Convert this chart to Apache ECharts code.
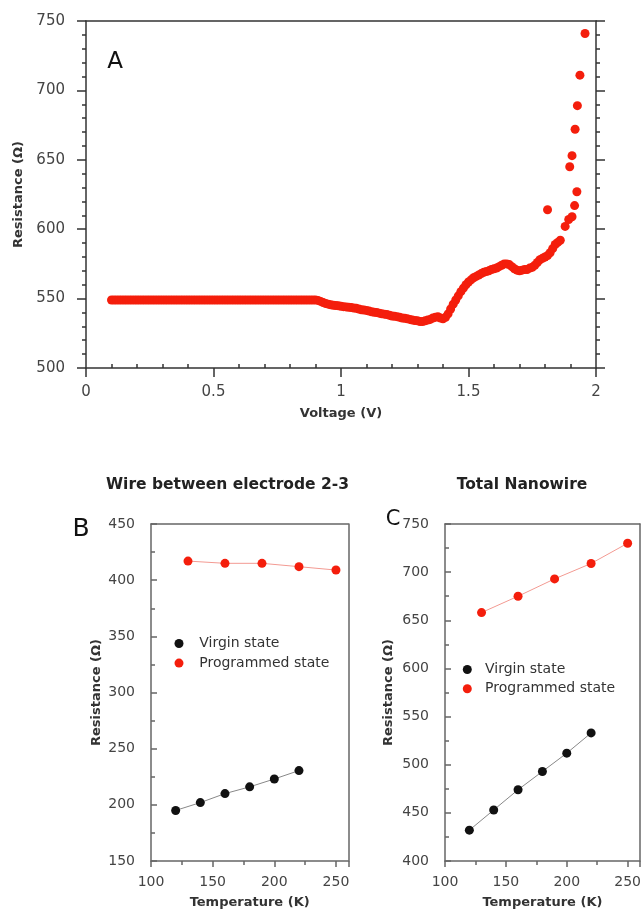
<!DOCTYPE html>
<html>
<head>
<meta charset="utf-8">
<script src="https://cdn.jsdelivr.net/npm/echarts@6/dist/echarts.min.js"></script>
<style>
html,body{margin:0;padding:0;background:#fff;}
#chart{width:644px;height:918px;}
</style>
</head>
<body>
<div id="chart"></div>
<script>
// ---- Panel A: resistance vs voltage ----
const voltageA = [0.10,0.11,0.12,0.13,0.14,0.15,0.16,0.17,0.18,0.19,0.20,0.21,0.22,0.23,0.24,0.25,0.26,0.27,0.28,0.29,
  0.30,0.31,0.32,0.33,0.34,0.35,0.36,0.37,0.38,0.39,0.40,0.41,0.42,0.43,0.44,0.45,0.46,0.47,0.48,0.49,
  0.50,0.51,0.52,0.53,0.54,0.55,0.56,0.57,0.58,0.59,0.60,0.61,0.62,0.63,0.64,0.65,0.66,0.67,0.68,0.69,
  0.70,0.71,0.72,0.73,0.74,0.75,0.76,0.77,0.78,0.79,0.80,0.81,0.82,0.83,0.84,0.85,0.86,0.87,0.88,0.89,
  0.90,0.91,0.92,0.93,0.94,0.95,0.96,0.97,0.98,0.99,1.00,1.01,1.02,1.03,1.04,1.05,1.06,1.07,1.08,1.09,
  1.10,1.11,1.12,1.13,1.14,1.15,1.16,1.17,1.18,1.19,1.20,1.21,1.22,1.23,1.24,1.25,1.26,1.27,1.28,1.29,
  1.30,1.31,1.32,1.33,1.34,1.35,1.36,1.37,1.38,1.39,1.40,1.41,1.42,1.43,1.44,1.45,1.46,1.47,1.48,1.49,
  1.50,1.51,1.52,1.53,1.54,1.55,1.56,1.57,1.58,1.59,1.60,1.61,1.62,1.63,1.64,1.65,1.66,1.67,1.68,1.69,
  1.70,1.71,1.72,1.73,1.74,1.75,1.76,1.77,1.78,1.79,1.80,1.81,1.82,1.83,1.84,1.85,1.86];
const resistanceA = [549,549,549,549,549,549,549,549,549,549,549,549,549,549,549,549,549,549,549,549,
  549,549,549,549,549,549,549,549,549,549,549,549,549,549,549,549,549,549,549,549,
  549,549,549,549,549,549,549,549,549,549,549,549,549,549,549,549,549,549,549,549,
  549,549,549,549,549,549,549,549,549,549,549,549,549,549,549,549,549,549,549,549,
  549,548.7,548,547.2,546.5,546,545.5,545.2,545,544.8,544.5,544.2,544,543.8,543.5,543.2,543,542.5,542,541.8,
  541.5,541,540.5,540.2,540,539.5,539,538.8,538.5,538,537.5,537.2,537,536.5,536,535.8,535.5,535,534.5,534.2,
  534,533.5,533.5,534,534.5,535,536,536.5,537,536,535.5,536.5,539,542.5,546,549,552,555,557.5,560,
  562,563.5,565,566,567,568,569,569.5,570,571,571.5,572,573,574,575,575,574.5,573,571.5,570.5,
  570,570.5,571,571,572,572.5,574,576,578,579,580,581,583,586,589,590.5,592];
const voltageOut = [1.810,1.879,1.893,1.906,1.916,1.925,1.897,1.906,1.918,1.927,1.937,1.957];
const resistanceOut = [614,602,607,609,617,627,645,653,672,689,711,741];

// ---- Panels B and C: resistance vs temperature ----
const tempVirgin = [120,140,160,180,200,220];
const tempProg = [130,160,190,220,250];
const virginB = [195,202,210,216,223,230.5];
const programmedB = [417,415,415,412,409];
const virginC = [432,453,474,493,512,533];
const programmedC = [658,675,693,709,730];

const xTicksA = [0,0.5,1,1.5,2];
const yTicksA = [500,550,600,650,700,750];
const xTicksBC = [100,150,200,250];

const zip = (a,b) => a.map((v,i)=>[v,b[i]]);
const FF = 'DejaVu Sans';
const dark = '#333';
const boxGray = '#666';
const red = '#f41e0c';

const chart = echarts.init(document.getElementById('chart'), null, {renderer:'canvas'});

function boxAxis(grid, pos, color){
  return {gridIndex:grid, type:'value', position:pos, axisLine:{show:true,onZero:false,lineStyle:{color:color,width:1.5}},
    axisTick:{show:false}, axisLabel:{show:false}, splitLine:{show:false}};
}

const option = {
  animation:false,
  textStyle:{fontFamily:FF},
  grid:[
    {left:86, top:21, width:510, height:347},
    {left:151, top:524, width:197.3, height:337},
    {left:445, top:524, width:197.3, height:337}
  ],
  xAxis:[
    {gridIndex:0, type:'value', min:xTicksA[0], max:xTicksA[xTicksA.length-1], interval:0.5, position:'bottom',
     axisLine:{show:true,onZero:false,lineStyle:{color:dark,width:1.5}},
     axisTick:{show:true,length:9,lineStyle:{color:dark,width:1.5}},
     axisLabel:{margin:17,color:'#444',fontSize:15,fontFamily:FF},
     splitLine:{show:false},
     name:'Voltage (V)', nameLocation:'middle', nameGap:39,
     nameTextStyle:{fontWeight:'bold',fontSize:13,color:dark,fontFamily:FF}},
    {gridIndex:0, type:'value', min:xTicksA[0], max:xTicksA[xTicksA.length-1], interval:0.5, position:'bottom',
     axisLine:{show:false}, axisTick:{show:false,inside:true},
     minorTick:{show:true,splitNumber:5,length:4,lineStyle:{color:dark,width:1.5}},
     axisLabel:{show:false}, splitLine:{show:false}, minorSplitLine:{show:false}},
    Object.assign(boxAxis(0,'top',dark),{min:0,max:2}),
    {gridIndex:1, type:'value', min:100, max:260, interval:50, position:'bottom',
     axisLine:{show:true,onZero:false,lineStyle:{color:boxGray,width:1.5}},
     axisTick:{show:true,length:6,lineStyle:{color:boxGray,width:1.5}},
     minorTick:{show:true,splitNumber:2,length:4,lineStyle:{color:boxGray,width:1.5}},
     axisLabel:{margin:14,color:'#444',fontSize:14,fontFamily:FF,
       formatter:v=>xTicksBC.indexOf(v)>=0?String(v):''},
     splitLine:{show:false},
     name:'Temperature (K)', nameLocation:'middle', nameGap:35,
     nameTextStyle:{fontWeight:'bold',fontSize:13,color:dark,fontFamily:FF}},
    Object.assign(boxAxis(1,'top',boxGray),{min:100,max:260}),
    {gridIndex:2, type:'value', min:100, max:260, interval:50, position:'bottom',
     axisLine:{show:true,onZero:false,lineStyle:{color:boxGray,width:1.5}},
     axisTick:{show:true,length:6,lineStyle:{color:boxGray,width:1.5}},
     minorTick:{show:true,splitNumber:2,length:4,lineStyle:{color:boxGray,width:1.5}},
     axisLabel:{margin:14,color:'#444',fontSize:14,fontFamily:FF,
       formatter:v=>xTicksBC.indexOf(v)>=0?String(v):''},
     splitLine:{show:false},
     name:'Temperature (K)', nameLocation:'middle', nameGap:35,
     nameTextStyle:{fontWeight:'bold',fontSize:13,color:dark,fontFamily:FF}},
    Object.assign(boxAxis(2,'top',boxGray),{min:100,max:260})
  ],
  yAxis:[
    {gridIndex:0, type:'value', min:yTicksA[0], max:yTicksA[yTicksA.length-1], interval:50, position:'left',
     axisLine:{show:true,onZero:false,lineStyle:{color:dark,width:1.5}},
     axisTick:{show:true,length:9,lineStyle:{color:dark,width:1.5}},
     minorTick:{show:true,splitNumber:5,length:4,lineStyle:{color:dark,width:1.5}},
     axisLabel:{margin:21,color:'#444',fontSize:15,fontFamily:FF},
     splitLine:{show:false},
     name:'Resistance (Ω)', nameLocation:'middle', nameGap:53,
     nameTextStyle:{fontWeight:'bold',fontSize:13,color:dark,fontFamily:FF}},
    {gridIndex:0, type:'value', min:500, max:750, interval:50, position:'right',
     axisLine:{show:true,onZero:false,lineStyle:{color:dark,width:1.5}},
     axisTick:{show:true,length:9,lineStyle:{color:dark,width:1.5}},
     minorTick:{show:true,splitNumber:5,length:4,lineStyle:{color:dark,width:1.5}},
     axisLabel:{show:false}, splitLine:{show:false}},
    {gridIndex:1, type:'value', min:150, max:450, interval:50, position:'left',
     axisLine:{show:true,onZero:false,lineStyle:{color:boxGray,width:1.5}},
     axisTick:{show:true,inside:true,length:6,lineStyle:{color:boxGray,width:1.5}},
     minorTick:{show:true,splitNumber:2,length:4,lineStyle:{color:boxGray,width:1.5}},
     axisLabel:{margin:16,color:'#444',fontSize:14,fontFamily:FF},
     splitLine:{show:false},
     name:'Resistance (Ω)', nameLocation:'middle', nameGap:48,
     nameTextStyle:{fontWeight:'bold',fontSize:13,color:dark,fontFamily:FF}},
    Object.assign(boxAxis(1,'right',boxGray),{min:150,max:450}),
    {gridIndex:2, type:'value', min:400, max:750, interval:50, position:'left',
     axisLine:{show:true,onZero:false,lineStyle:{color:boxGray,width:1.5}},
     axisTick:{show:true,inside:true,length:6,lineStyle:{color:boxGray,width:1.5}},
     minorTick:{show:true,splitNumber:2,length:4,lineStyle:{color:boxGray,width:1.5}},
     axisLabel:{margin:16,color:'#444',fontSize:14,fontFamily:FF},
     splitLine:{show:false},
     name:'Resistance (Ω)', nameLocation:'middle', nameGap:50,
     nameTextStyle:{fontWeight:'bold',fontSize:13,color:dark,fontFamily:FF}},
    Object.assign(boxAxis(2,'right',boxGray),{min:400,max:750})
  ],
  legend:[
    {orient:'vertical', left:174.5, top:636.5, padding:0, itemGap:5.6, itemWidth:30.5, itemHeight:9, icon:'circle',
     textStyle:{fontSize:14,color:dark,fontFamily:FF}, data:['Virgin state','Programmed state']},
    {orient:'vertical', left:462.8, top:662.5, padding:0, itemGap:5.3, itemWidth:25.5, itemHeight:9, icon:'circle',
     textStyle:{fontSize:14,color:dark,fontFamily:FF}, data:['Virgin state','Programmed state']}
  ],
  graphic:[
    {type:'text', x:115, y:62, style:{text:'A', font:'23px "DejaVu Sans"', fill:'#111', textAlign:'center', textVerticalAlign:'middle'}},
    {type:'text', x:81, y:529, style:{text:'B', font:'25px "DejaVu Sans"', fill:'#111', textAlign:'center', textVerticalAlign:'middle'}},
    {type:'text', x:393, y:520, style:{text:'C', font:'21px "DejaVu Sans"', fill:'#111', textAlign:'center', textVerticalAlign:'middle'}},
    {type:'text', x:227.5, y:485, style:{text:'Wire between electrode 2-3', font:'bold 15.5px "DejaVu Sans"', fill:'#222', textAlign:'center', textVerticalAlign:'middle'}},
    {type:'text', x:522, y:485, style:{text:'Total Nanowire', font:'bold 15.5px "DejaVu Sans"', fill:'#222', textAlign:'center', textVerticalAlign:'middle'}}
  ],
  series:[
    {name:'A main', type:'scatter', xAxisIndex:0, yAxisIndex:0, data:zip(voltageA,resistanceA),
     symbol:'circle', symbolSize:9, itemStyle:{color:red,opacity:1}},
    {name:'A high', type:'scatter', xAxisIndex:0, yAxisIndex:0, data:zip(voltageOut,resistanceOut),
     symbol:'circle', symbolSize:9, itemStyle:{color:red,opacity:1}},
    {name:'Virgin state', type:'line', xAxisIndex:3, yAxisIndex:2, data:zip(tempVirgin,virginB),
     symbol:'circle', symbolSize:9, itemStyle:{color:'#111'}, lineStyle:{color:'#888',width:1}},
    {name:'Programmed state', type:'line', xAxisIndex:3, yAxisIndex:2, data:zip(tempProg,programmedB),
     symbol:'circle', symbolSize:9, itemStyle:{color:red}, lineStyle:{color:'#f39a92',width:1}},
    {name:'Virgin state', type:'line', xAxisIndex:5, yAxisIndex:4, data:zip(tempVirgin,virginC),
     symbol:'circle', symbolSize:9, itemStyle:{color:'#111'}, lineStyle:{color:'#888',width:1}},
    {name:'Programmed state', type:'line', xAxisIndex:5, yAxisIndex:4, data:zip(tempProg,programmedC),
     symbol:'circle', symbolSize:9, itemStyle:{color:red}, lineStyle:{color:'#f39a92',width:1}}
  ]
};
chart.setOption(option);
</script>
</body>
</html>
